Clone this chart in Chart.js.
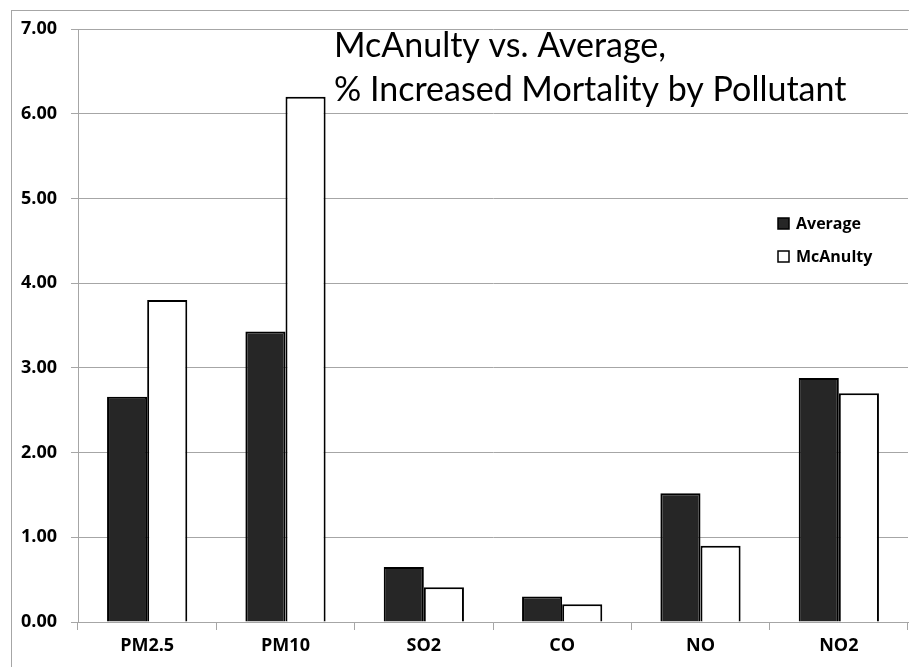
<!DOCTYPE html>
<html>
<head>
<meta charset="utf-8">
<script src="https://cdn.jsdelivr.net/npm/chart.js@4.4.1/dist/chart.umd.min.js"></script>
<style>
  html, body { margin: 0; padding: 0; background: #fff; }
  #wrap { width: 909px; height: 667px; }
</style>
</head>
<body>
<div id="wrap"><canvas id="chart"></canvas></div>
<script>
// Data
const pollutants = ["PM2.5", "PM10", "SO2", "CO", "NO", "NO2"];
const averageValues = [2.66, 3.43, 0.65, 0.30, 1.52, 2.88];
const mcanultyValues = [3.80, 6.20, 0.41, 0.21, 0.90, 2.70];
const titleLines = ["McAnulty vs. Average,", "% Increased Mortality by Pollutant"];

const gray = "#a6a6a6";
const labelFont = { family: "'Open Sans', sans-serif", size: 18, weight: "bold" };

// outer frame, title inside plot area, legend inside plot area
const decorations = {
    id: "decorations",
    beforeDraw(chart) {
        const ctx = chart.ctx;
        ctx.save();
        ctx.strokeStyle = gray;
        ctx.lineWidth = 1;
        ctx.strokeRect(11.5, 10.5, chart.width + 20, chart.height + 20);
        ctx.restore();
    },
    afterDraw(chart) {
        const ctx = chart.ctx;
        ctx.save();
        ctx.fillStyle = "#000";
        ctx.textBaseline = "alphabetic";
        ctx.font = "34px Lato, sans-serif";
        ctx.fillText(titleLines[0], 334, 57);
        ctx.fillText(titleLines[1], 334, 101);

        // legend
        ctx.font = "bold 16px 'Open Sans', sans-serif";
        ctx.textBaseline = "middle";
        chart.data.datasets.forEach((ds, i) => {
            const y = 218 + i * 33;
            ctx.fillStyle = ds.backgroundColor;
            ctx.fillRect(778, y, 11, 11);
            ctx.strokeStyle = "#000";
            ctx.lineWidth = 1.5;
            ctx.strokeRect(778, y, 11, 11);
            ctx.fillStyle = "#000";
            ctx.fillText(ds.label, 796, y + 6);
        });
        ctx.restore();
    }
};

new Chart(document.getElementById("chart"), {
    type: "bar",
    data: {
        labels: pollutants,
        datasets: [{
            label: "Average",
            data: averageValues,
            backgroundColor: "#262626",
            borderColor: "#000",
            borderWidth: 2
        }, {
            label: "McAnulty",
            data: mcanultyValues,
            backgroundColor: "#ffffff",
            borderColor: "#000",
            borderWidth: 2
        }]
    },
    options: {
        responsive: true,
        maintainAspectRatio: false,
        animation: false,
        layout: { padding: { top: 29, right: 1, left: 0, bottom: 0 } },
        datasets: {
            bar: { categoryPercentage: 0.58, barPercentage: 1.0 }
        },
        scales: {
            x: {
                grid: { drawOnChartArea: false, color: gray, tickLength: 8 },
                border: { color: gray },
                ticks: { color: "#000", font: labelFont, padding: 5 },
                afterFit: scale => { scale.height = 45; }
            },
            y: {
                min: 0,
                max: 7,
                grid: { color: gray, tickLength: 7 },
                border: { color: gray },
                ticks: {
                    stepSize: 1,
                    color: "#000",
                    font: labelFont,
                    padding: 14,
                    callback: v => v.toFixed(2)
                },
                afterFit: scale => { scale.width = 78; }
            }
        },
        plugins: {
            legend: { display: false },
            title: { display: false },
            tooltip: { enabled: false }
        }
    },
    plugins: [decorations]
});
</script>
</body>
</html>
